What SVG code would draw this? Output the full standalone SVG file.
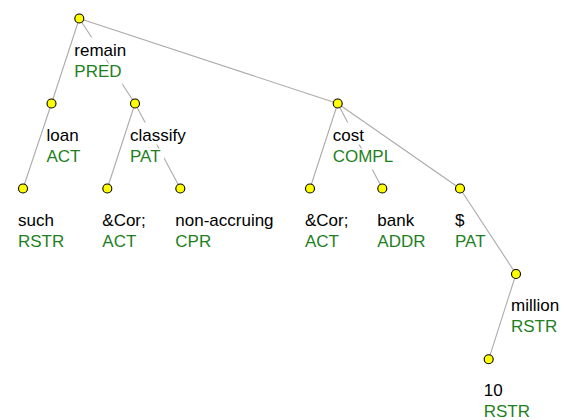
<svg xmlns="http://www.w3.org/2000/svg" width="568" height="420" viewBox="0 0 568 420">
<style>
.bg{fill:#fff;stroke:none}
.t{font-family:"Liberation Sans",Arial,sans-serif;font-size:17px;fill:#000}
.f{font-family:"Liberation Sans",Arial,sans-serif;font-size:17px;fill:#1f7f1f}
.n{fill:#ffff00;stroke:#000;stroke-width:1.1}
#connectors line{stroke:#ababab;stroke-width:1.1}
</style>
<rect width="568" height="420" fill="#fff"/>
<g id="connectors">
<line x1="79.3" y1="18.5" x2="51.5" y2="103.5"/>
<line x1="79.3" y1="18.5" x2="135" y2="103.5"/>
<line x1="79.3" y1="18.5" x2="337.7" y2="103.5"/>
<line x1="51.5" y1="103.5" x2="23" y2="188.5"/>
<line x1="135" y1="103.5" x2="107.3" y2="188.5"/>
<line x1="135" y1="103.5" x2="180.3" y2="188.5"/>
<line x1="337.7" y1="103.5" x2="310" y2="188.5"/>
<line x1="337.7" y1="103.5" x2="382.3" y2="188.5"/>
<line x1="337.7" y1="103.5" x2="460" y2="188.5"/>
<line x1="460" y1="188.5" x2="516" y2="274"/>
<line x1="516" y1="274" x2="488.7" y2="359.3"/>
</g>
<g id="n-remain">
<rect class="bg" x="74.3" y="37.5" width="53" height="22"/>
<rect class="bg" x="74.3" y="63.5" width="48.2" height="21"/>
<text class="t" x="74.3" y="55.5">remain</text>
<text class="f" x="74.3" y="76.5">PRED</text>
<circle class="n" cx="79.3" cy="18.5" r="4.5"/>
</g>
<g id="n-loan">
<rect class="bg" x="46.5" y="122.5" width="33" height="22"/>
<rect class="bg" x="46.5" y="148.5" width="35" height="21"/>
<text class="t" x="46.5" y="140.5">loan</text>
<text class="f" x="46.5" y="161.5">ACT</text>
<circle class="n" cx="51.5" cy="103.5" r="4.5"/>
</g>
<g id="n-classify">
<rect class="bg" x="130" y="122.5" width="56.7" height="22"/>
<rect class="bg" x="130" y="148.5" width="34.1" height="21"/>
<text class="t" x="130" y="140.5">classify</text>
<text class="f" x="130" y="161.5">PAT</text>
<circle class="n" cx="135" cy="103.5" r="4.5"/>
</g>
<g id="n-cost">
<rect class="bg" x="332.7" y="122.5" width="32.2" height="22"/>
<rect class="bg" x="332.7" y="148.5" width="61.5" height="21"/>
<text class="t" x="332.7" y="140.5">cost</text>
<text class="f" x="332.7" y="161.5">COMPL</text>
<circle class="n" cx="337.7" cy="103.5" r="4.5"/>
</g>
<g id="n-such">
<rect class="bg" x="18" y="207.5" width="36.9" height="22"/>
<rect class="bg" x="18" y="233.5" width="47.3" height="21"/>
<text class="t" x="18" y="225.5">such</text>
<text class="f" x="18" y="246.5">RSTR</text>
<circle class="n" cx="23" cy="188.5" r="4.5"/>
</g>
<g id="n-cor1">
<rect class="bg" x="102.3" y="207.5" width="44.5" height="22"/>
<rect class="bg" x="102.3" y="233.5" width="35" height="21"/>
<text class="t" x="102.3" y="225.5">&amp;Cor;</text>
<text class="f" x="102.3" y="246.5">ACT</text>
<circle class="n" cx="107.3" cy="188.5" r="4.5"/>
</g>
<g id="n-nonaccruing">
<rect class="bg" x="175.3" y="207.5" width="99.3" height="22"/>
<rect class="bg" x="175.3" y="233.5" width="36.9" height="21"/>
<text class="t" x="175.3" y="225.5">non-accruing</text>
<text class="f" x="175.3" y="246.5">CPR</text>
<circle class="n" cx="180.3" cy="188.5" r="4.5"/>
</g>
<g id="n-cor2">
<rect class="bg" x="305" y="207.5" width="44.5" height="22"/>
<rect class="bg" x="305" y="233.5" width="35" height="21"/>
<text class="t" x="305" y="225.5">&amp;Cor;</text>
<text class="f" x="305" y="246.5">ACT</text>
<circle class="n" cx="310" cy="188.5" r="4.5"/>
</g>
<g id="n-bank">
<rect class="bg" x="377.3" y="207.5" width="37.9" height="22"/>
<rect class="bg" x="377.3" y="233.5" width="49.2" height="21"/>
<text class="t" x="377.3" y="225.5">bank</text>
<text class="f" x="377.3" y="246.5">ADDR</text>
<circle class="n" cx="382.3" cy="188.5" r="4.5"/>
</g>
<g id="n-dollar">
<rect class="bg" x="455" y="207.5" width="10.5" height="22"/>
<rect class="bg" x="455" y="234.5" width="33.6" height="20"/>
<text class="t" x="455" y="225.5">$</text>
<text class="f" x="455" y="246.5">PAT</text>
<circle class="n" cx="460" cy="188.5" r="4.5"/>
</g>
<g id="n-million">
<rect class="bg" x="511" y="293" width="49.2" height="22"/>
<rect class="bg" x="511" y="319" width="47.3" height="21"/>
<text class="t" x="511" y="311">million</text>
<text class="f" x="511" y="332">RSTR</text>
<circle class="n" cx="516" cy="274" r="4.5"/>
</g>
<g id="n-10">
<rect class="bg" x="483.7" y="378.3" width="19.9" height="22"/>
<rect class="bg" x="483.7" y="404.3" width="47.3" height="15.7"/>
<text class="t" x="483.7" y="396.3">10</text>
<text class="f" x="483.7" y="417.3">RSTR</text>
<circle class="n" cx="488.7" cy="359.3" r="4.5"/>
</g>
</svg>
